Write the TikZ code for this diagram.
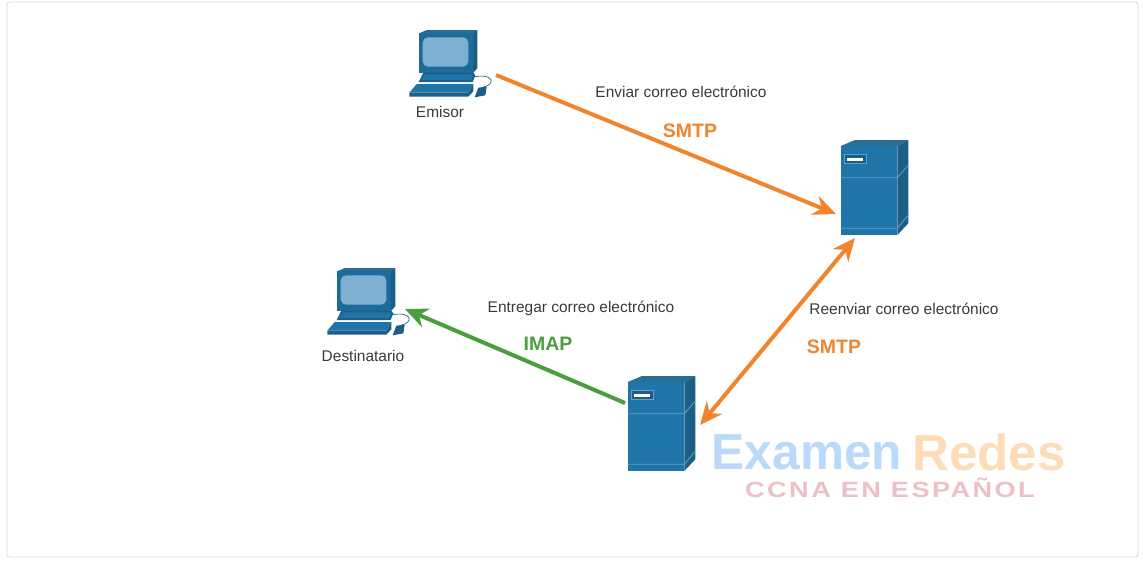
\documentclass[tikz,border=0pt]{standalone}
\usepackage{fontspec}
\setmainfont{Liberation Sans}
\newfontfamily\markfont{Liberation Sans Bold}
\newfontfamily\spacedfont[LetterSpace=11,FakeStretch=1.235]{Liberation Sans Bold}
\usepackage{xcolor}
\usepackage{tikz}
\usetikzlibrary{arrows.meta}

\definecolor{smtporange}{HTML}{F0852D}
\definecolor{imapgreen}{HTML}{4A9E3E}
\definecolor{bodytext}{HTML}{3A3A3A}
\definecolor{icontop}{HTML}{2A6E96}
\definecolor{iconfront}{HTML}{1F74A8}
\definecolor{iconside}{HTML}{1C5E86}
\definecolor{iconline}{HTML}{5FA3C8}
\definecolor{iconscreen}{HTML}{7FB0D2}
\definecolor{markblue}{HTML}{BBD9FB}
\definecolor{markorange}{HTML}{FDDDB8}
\definecolor{markpink}{HTML}{EDBFC8}

\tikzset{
    caption/.style={text=bodytext, font=\fontsize{11.6}{13}\selectfont, inner sep=0pt},
    protocol/.style={font=\fontsize{14.6}{16}\selectfont\bfseries, inner sep=0pt},
    link/.style={line width=3pt, {Stealth[length=17pt,width=15pt]}-{Stealth[length=17pt,width=15pt]}},
    oneway/.style={line width=3pt, -{Stealth[length=17pt,width=15pt]}},
    icon/.style={x=0.25pt, y=-0.25pt},
    computer/.pic={
        \begin{scope}[icon]
        % Monitor
        \fill[icontop] (58,40) -- (80,30) -- (232,30) -- (218,40) -- cycle;
        \fill[iconside] (218,40) -- (232,30) -- (232,145) -- (218,160) -- cycle;
        \fill[iconfront!92!black] (58,40) rectangle (218,160);
        \fill[iconscreen, rounded corners=4pt] (68,52) rectangle (205,140);
        % Base
        \fill[iconside] (70,158) -- (220,158) -- (226,166) -- (218,186) -- (56,186) -- cycle;
        \fill[iconfront] (76,163) -- (214,163) -- (220,168) -- (212,180) -- (62,180) -- cycle;
        % Keyboard and mouse
        \fill[iconfront] (50,192) -- (220,192) -- (205,218) -- (28,218) -- cycle;
        \fill[iconside] (28,218) -- (205,218) -- (220,192) -- (220,214) -- (205,230) -- (28,230) -- cycle;
        \fill[iconside] (235,203) -- (260,200) -- (256,226) -- (224,232) -- cycle;
        \draw[iconside, line width=0.5pt] (224,170) .. controls (285,160) and (285,195) .. (250,201);
        \coordinate (-out) at (288,165);
        \coordinate (-in) at (261,153);
        \end{scope}
    },
    server/.pic={
        \begin{scope}[icon]
        \fill[icontop] (62,48) -- (105,30) -- (265,30) -- (232,48) -- cycle;
        \fill[iconside] (232,48) -- (265,30) -- (265,280) -- (232,315) -- cycle;
        \fill[iconfront] (62,48) rectangle (232,315);
        % Seams
        \draw[iconline, line width=0.6pt] (62,143) -- (232,143) -- (265,105);
        \draw[iconline, line width=0.6pt] (62,295) -- (232,295) -- (265,255);
        % Slot
        \fill[iconside, draw=iconline, line width=0.3pt] (72,72) rectangle (140,100);
        \fill[white] (80,83) rectangle (130,92);
        \coordinate (-in) at (48,252);
        \coordinate (-out) at (105,324);
        \coordinate (-back) at (279,177);
        \coordinate (-left) at (54,111);
        \end{scope}
    },
}

\begin{document}
\begin{tikzpicture}[x=0.75pt, y=-0.75pt]
    \useasboundingbox (0,0) rectangle (1143,561);

    % Outer frame
    \draw[black!15, line width=0.7pt, rounded corners=2pt] (7,2) rectangle (1138,557);

    % Watermark
    \node[text=markblue, font=\fontsize{38}{40}\markfont, xscale=0.98, inner sep=0pt] (markexamen) at (807,452) {Examen};
    \node[text=markorange, font=\fontsize{38}{40}\markfont, xscale=1.01, inner sep=0pt] (markredes) at (989,452) {Redes};
    \node[text=markpink, font=\fontsize{16.5}{18}\spacedfont, inner sep=0pt] (markccna) at (890,488) {CCNA EN ESPAÑOL};

    % Hosts
    \pic (emisor) at (400,20) {computer};
    \pic (destino) at (318,258) {computer};
    \pic (servera) at (820,130) {server};
    \pic (serverb) at (607,366) {server};

    % Connections
    \draw[oneway, smtporange] (emisor-out) -- (servera-in);
    \draw[link, smtporange] (servera-out) -- (serverb-back);
    \draw[oneway, imapgreen] (serverb-left) -- (destino-in);

    % Labels
    \node[caption] (emisorlabel) at (440,112) {Emisor};
    \node[caption] (destinolabel) at (363,356) {Destinatario};
    \node[caption] (enviar) at (681,92) {Enviar correo electrónico};
    \node[protocol, smtporange] (smtpa) at (690,131) {SMTP};
    \node[caption] (entregar) at (581,308) {Entregar correo electrónico};
    \node[protocol, imapgreen] (imap) at (548,344) {IMAP};
    \node[caption] (reenviar) at (904,309) {Reenviar correo electrónico};
    \node[protocol, smtporange] (smtpb) at (834,347) {SMTP};
\end{tikzpicture}
\end{document}
